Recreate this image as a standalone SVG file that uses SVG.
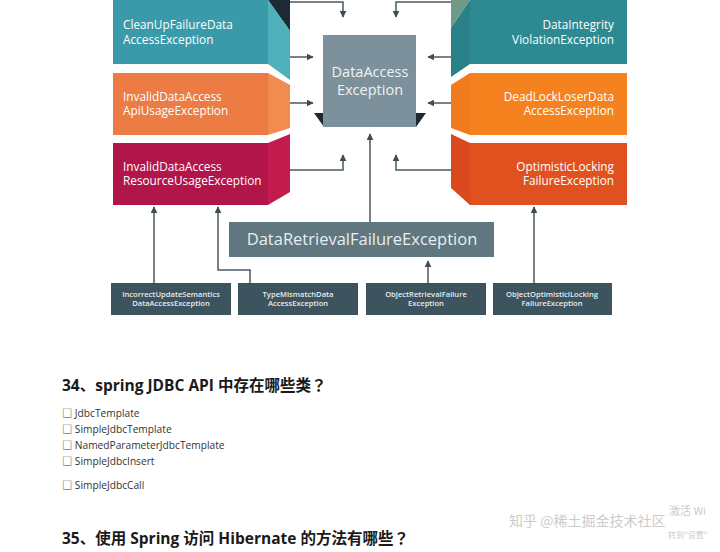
<svg xmlns="http://www.w3.org/2000/svg" width="720" height="552" viewBox="0 0 720 552">
<defs>
<marker id="ah" viewBox="0 0 10 10" refX="9" refY="5" markerWidth="7" markerHeight="7" markerUnits="userSpaceOnUse" orient="auto">
<path d="M0,0 L10,5 L0,10 z" fill="#3f4d55"/>
</marker>
<style>
.bt{font-family:"Open Sans","Liberation Sans",sans-serif;font-size:11.8px;fill:#ffffff}
.bt-r{font-family:"Open Sans","Liberation Sans",sans-serif;font-size:11.8px;fill:#ffffff;text-anchor:end}
.ct{font-family:"Open Sans","Liberation Sans",sans-serif;font-size:14.5px;fill:#eef3f5;text-anchor:middle}
.rt{font-family:"Open Sans","Liberation Sans",sans-serif;font-size:16.5px;fill:#e8eef1;text-anchor:middle}
.st{font-family:"Open Sans","Liberation Sans",sans-serif;font-size:7.6px;font-weight:600;fill:#e6ecef;text-anchor:middle}
.conn{fill:none;stroke:#4a5960;stroke-width:1.5;marker-end:url(#ah)}
.h{font-family:"Open Sans","Noto Sans CJK JP",sans-serif;font-size:15.5px;font-weight:bold;fill:#1a1a1a}
.li{font-family:"Open Sans","Noto Sans CJK SC",sans-serif;font-size:10.2px;fill:#333333}
.wm{font-family:"Noto Sans CJK SC",sans-serif;font-size:14px;fill:#cccccc}
</style>
</defs>
<rect width="720" height="552" fill="#ffffff"/>

<g id="top-dark">
<polygon points="268,0 290,0 290,31" fill="#1c2b33"/>
<polygon points="451,0 470,0 451,28" fill="#6f9a88"/>
</g>

<g id="n-cleanup">
<polygon points="113,0 268,0 268,64 113,64" fill="#3a9aa9"/>
<polygon points="268,0 290,31 290,80 268,64" fill="#4db0bb"/>
<text class="bt" x="123" y="29">CleanUpFailureData</text>
<text class="bt" x="123" y="44">AccessException</text>
</g>
<g id="n-apiusage">
<polygon points="113,73 268,73 268,135 113,135" fill="#ec7b44"/>
<polygon points="268,73 290,85 290,128 268,135" fill="#f28b50"/>
<text class="bt" x="123" y="100.5">InvalidDataAccess</text>
<text class="bt" x="123" y="115">ApiUsageException</text>
</g>
<g id="n-resusage">
<polygon points="113,143 268,143 268,205 113,205" fill="#b2154a"/>
<polygon points="268,143 290,134 290,192 268,205" fill="#c21c4f"/>
<text class="bt" x="123" y="170.5">InvalidDataAccess</text>
<text class="bt" x="123" y="185">ResourceUsageException</text>
</g>

<g id="n-integrity">
<polygon points="470,0 627,0 627,64 470,64" fill="#2d8a93"/>
<polygon points="470,0 451,28 451,77 470,64" fill="#2a8089"/>
<text class="bt-r" x="614" y="29">DataIntegrity</text>
<text class="bt-r" x="614" y="44">ViolationException</text>
</g>
<g id="n-deadlock">
<polygon points="470,73 627,73 627,135 470,135" fill="#f6821f"/>
<polygon points="470,73 451,85 451,128 470,135" fill="#f07a1c"/>
<text class="bt-r" x="614" y="100.5">DeadLockLoserData</text>
<text class="bt-r" x="614" y="115">AccessException</text>
</g>
<g id="n-optimistic">
<polygon points="470,143 627,143 627,205 470,205" fill="#e0511f"/>
<polygon points="470,143 451,134 451,188 470,205" fill="#d9491d"/>
<text class="bt-r" x="614" y="170.5">OptimisticLocking</text>
<text class="bt-r" x="614" y="185">FailureException</text>
</g>

<g id="n-dataaccess">
<polygon points="314,113 324,113 324,127" fill="#1c2b33"/>
<polygon points="416,113 426,113 416,127" fill="#1c2b33"/>
<rect x="323" y="35" width="93" height="92" fill="#7d919c"/>
<text class="ct" x="370" y="77">DataAccess</text>
<text class="ct" x="370" y="95">Exception</text>
</g>

<g id="n-retrieval">
<rect x="229" y="222" width="265" height="35" fill="#607780"/>
<text class="rt" x="362" y="245">DataRetrievalFailureException</text>
</g>

<g id="n-incorrect">
<rect x="111" y="283" width="120" height="32" fill="#3d535d"/>
<text class="st" x="171" y="297">IncorrectUpdateSemantics</text>
<text class="st" x="171" y="306">DataAccessException</text>
</g>
<g id="n-typemismatch">
<rect x="238" y="283" width="120" height="32" fill="#3d535d"/>
<text class="st" x="298" y="297">TypeMismatchData</text>
<text class="st" x="298" y="306">AccessException</text>
</g>
<g id="n-objretrieval">
<rect x="366" y="283" width="120" height="32" fill="#3d535d"/>
<text class="st" x="426" y="297">ObjectRetrievalFailure</text>
<text class="st" x="426" y="306">Exception</text>
</g>
<g id="n-objoptimistic">
<rect x="493" y="283" width="119" height="32" fill="#3d535d"/>
<text class="st" x="552" y="297">ObjectOptimisticlLocking</text>
<text class="st" x="552" y="306">FailureException</text>
</g>

<g id="connectors">
<path class="conn" d="M290,2 H343 V17"/>
<path class="conn" d="M451,2 H396 V17"/>
<path class="conn" d="M290,57 H313"/>
<path class="conn" d="M290,103 H313"/>
<path class="conn" d="M451,57 H428"/>
<path class="conn" d="M451,103 H428"/>
<path class="conn" d="M290,170 H343 V155"/>
<path class="conn" d="M451,170 H396 V155"/>
<path class="conn" d="M370,222 V134"/>
<path class="conn" d="M154,283 V207"/>
<path class="conn" d="M250,283 V270 H218 V207"/>
<path class="conn" d="M428,283 V261"/>
<path class="conn" d="M534,283 V207"/>
</g>

<g id="text-body">
<text class="h" x="62" y="391">34、spring JDBC API 中存在哪些类？</text>
<text class="li" x="62" y="417">□ JdbcTemplate</text>
<text class="li" x="62" y="433">□ SimpleJdbcTemplate</text>
<text class="li" x="62" y="449">□ NamedParameterJdbcTemplate</text>
<text class="li" x="62" y="465">□ SimpleJdbcInsert</text>
<text class="li" x="62" y="489">□ SimpleJdbcCall</text>
<text class="h" x="62" y="544">35、使用 Spring 访问 Hibernate 的方法有哪些？</text>
</g>

<g id="watermark">
<text class="wm" x="509" y="526">知乎 @稀土掘金技术社区</text>
<text class="wm" x="669" y="515" style="font-size:11px">激活 Wi</text>
<text class="wm" x="668" y="538" style="font-size:8px">转到"设置"</text>
</g>
</svg>
